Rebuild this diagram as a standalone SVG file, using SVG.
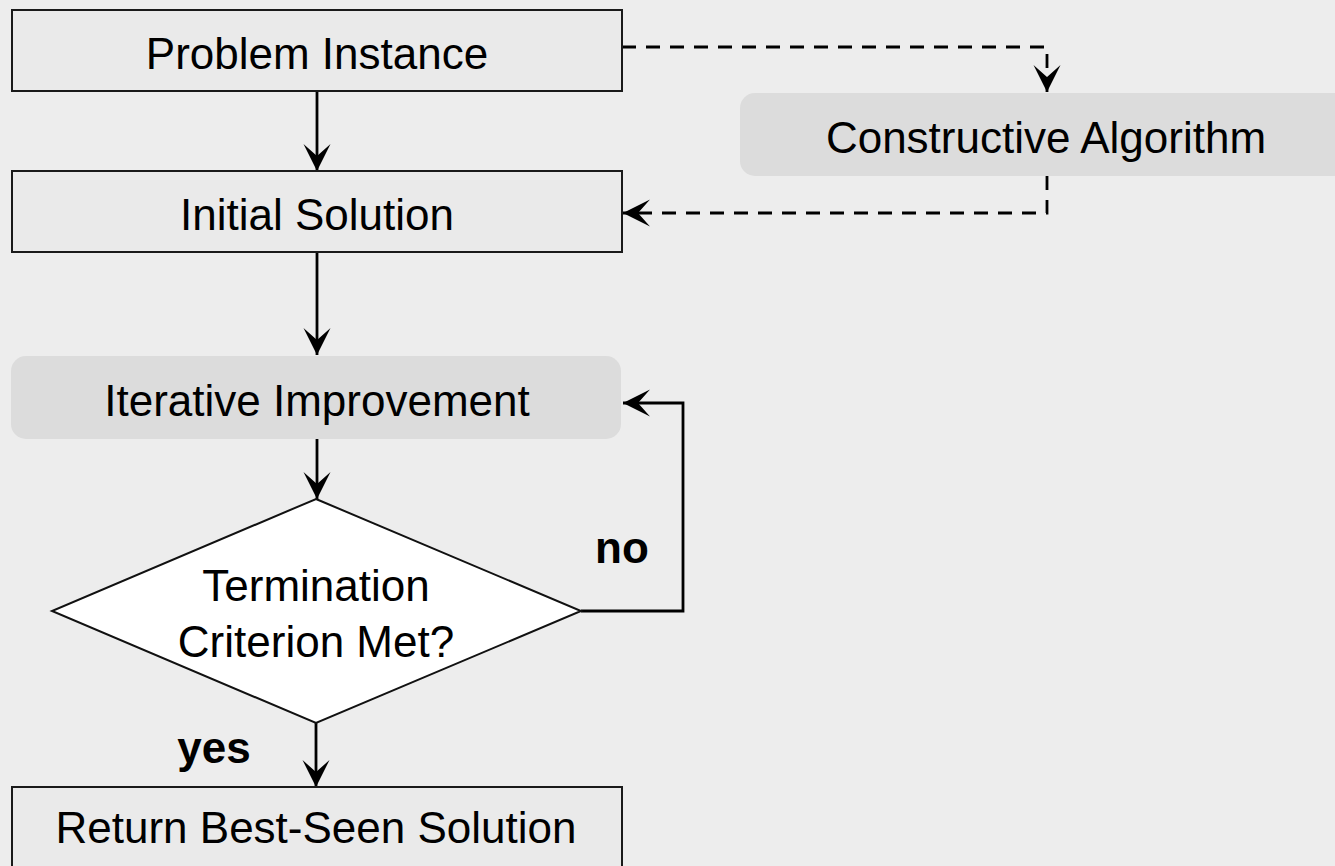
<svg xmlns="http://www.w3.org/2000/svg" width="1335" height="866" viewBox="0 0 1335 866">
<style>
.box{fill:#eaeaea;stroke:#1a1a1a;stroke-width:2}
.soft{fill:#dcdcdc;stroke:none}
.dia{fill:#ffffff;stroke:#111;stroke-width:2}
text{font-family:"Liberation Sans",Arial,Helvetica,sans-serif;font-size:44px;fill:#000;text-anchor:middle}
.b{font-weight:bold}
.c{fill:none;stroke:#000;stroke-width:2.8}
.d{stroke-dasharray:14 10}
</style>
<defs>
<marker id="ah" markerUnits="userSpaceOnUse" markerWidth="30" markerHeight="30" viewBox="-28 -15 30 30" refX="0" refY="0" orient="auto">
<path d="M0,0 L-27,-13.5 L-15,0 L-27,13.5 Z" fill="#000"/>
</marker>
</defs>
<rect width="1335" height="866" fill="#ededed"/>
<g id="connectors">
<path class="c" d="M317,91 V171" marker-end="url(#ah)"/>
<path class="c" d="M317,252 V355" marker-end="url(#ah)"/>
<path class="c" d="M317,439 V499" marker-end="url(#ah)"/>
<path class="c" d="M316,723 V787" marker-end="url(#ah)"/>
<path class="c" d="M581,611 H683 V403 H623" marker-end="url(#ah)"/>
<path class="c d" d="M622,47 H1047 V92" marker-end="url(#ah)"/>
<path class="c d" d="M1047,176 V213 H623" marker-end="url(#ah)"/>
</g>
<g id="node-problem">
<rect class="box" x="12" y="10" width="610" height="81"/>
<text x="317" y="69">Problem Instance</text>
</g>
<g id="node-initial">
<rect class="box" x="12" y="171" width="610" height="81"/>
<text x="317" y="230">Initial Solution</text>
</g>
<g id="node-constructive">
<rect class="soft" x="740" y="93" width="620" height="83" rx="15"/>
<text x="1046" y="153">Constructive Algorithm</text>
</g>
<g id="node-iterative">
<rect class="soft" x="11" y="356" width="610" height="83" rx="15"/>
<text x="317" y="416">Iterative Improvement</text>
</g>
<g id="node-termination">
<polygon class="dia" points="316,499 581,611 316,723 52,611"/>
<text x="316" y="601">Termination</text>
<text x="316" y="657">Criterion Met?</text>
</g>
<g id="labels">
<text class="b" x="622" y="563">no</text>
<text class="b" x="214" y="763">yes</text>
</g>
<g id="node-return">
<rect class="box" x="12" y="787" width="610" height="100"/>
<text x="316" y="843">Return Best-Seen Solution</text>
</g>
</svg>
